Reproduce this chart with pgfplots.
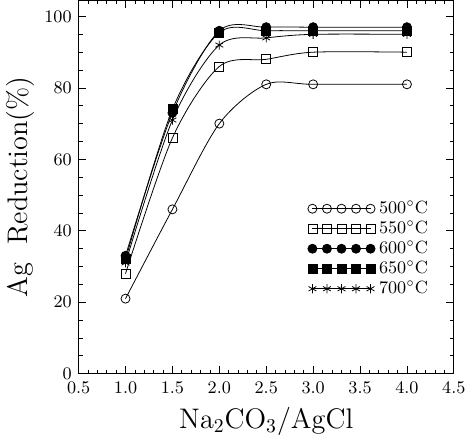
\documentclass[border=0pt]{standalone}
\usepackage{pgfplots}
\pgfplotsset{compat=1.18}
\begin{document}
\begin{tikzpicture}
\begin{axis}[
  scale only axis,
  width=191pt, height=190pt,
  xmin=0.5, xmax=4.5,
  ymin=0, ymax=104.5,
  xtick={0.5,1.0,...,4.5},
  minor x tick num=4,
  ytick={0,20,40,60,80,100},
  minor y tick num=3,
  xticklabel style={/pgf/number format/fixed, /pgf/number format/fixed zerofill,
    /pgf/number format/precision=1, yshift=-1pt},
  tick style={black, thin},
  major tick length=4pt, minor tick length=2pt,
  tick label style={font=\small},
  xlabel={Na$_2$CO$_3$/AgCl},
  ylabel={Ag\ \ Reduction(\%)},
  label style={font=\Large},
  ylabel style={yshift=-2pt},
  legend style={draw=none, fill=none, font=\small, at={(rel axis cs:0.61,0.475)}, anchor=north west,
    row sep=-2pt, inner sep=0pt},
  legend cell align=left,
  legend image code/.code={\draw[#1,mark repeat=1,mark phase=1] plot coordinates {(0cm,0cm)(0.26cm,0cm)(0.52cm,0cm)(0.78cm,0cm)(1.04cm,0cm)};},
  every axis legend/.append style={nodes={inner xsep=2pt}},
  every axis plot/.append style={black, thin, smooth, tension=0.5, mark size=2.3pt},
]
\addplot[mark=o] coordinates {(1.0,21) (1.5,46) (2.0,70) (2.5,81) (3.0,81) (4.0,81)};
\addlegendentry{500$^\circ$C}
\addplot[mark=square] coordinates {(1.0,28) (1.5,66) (2.0,86) (2.5,88) (3.0,90) (4.0,90)};
\addlegendentry{550$^\circ$C}
\addplot[mark=*, mark options={fill=black}] coordinates {(1.0,33) (1.5,73) (2.0,96) (2.5,97) (3.0,97) (4.0,97)};
\addlegendentry{600$^\circ$C}
\addplot[mark=square*, mark options={fill=black}] coordinates {(1.0,32) (1.5,74) (2.0,95.5) (2.5,96) (3.0,96) (4.0,96)};
\addlegendentry{650$^\circ$C}
\addplot[mark=asterisk] coordinates {(1.0,31) (1.5,71) (2.0,92) (2.5,94) (3.0,95) (4.0,95)};
\addlegendentry{700$^\circ$C}
\end{axis}
\end{tikzpicture}
\end{document}
